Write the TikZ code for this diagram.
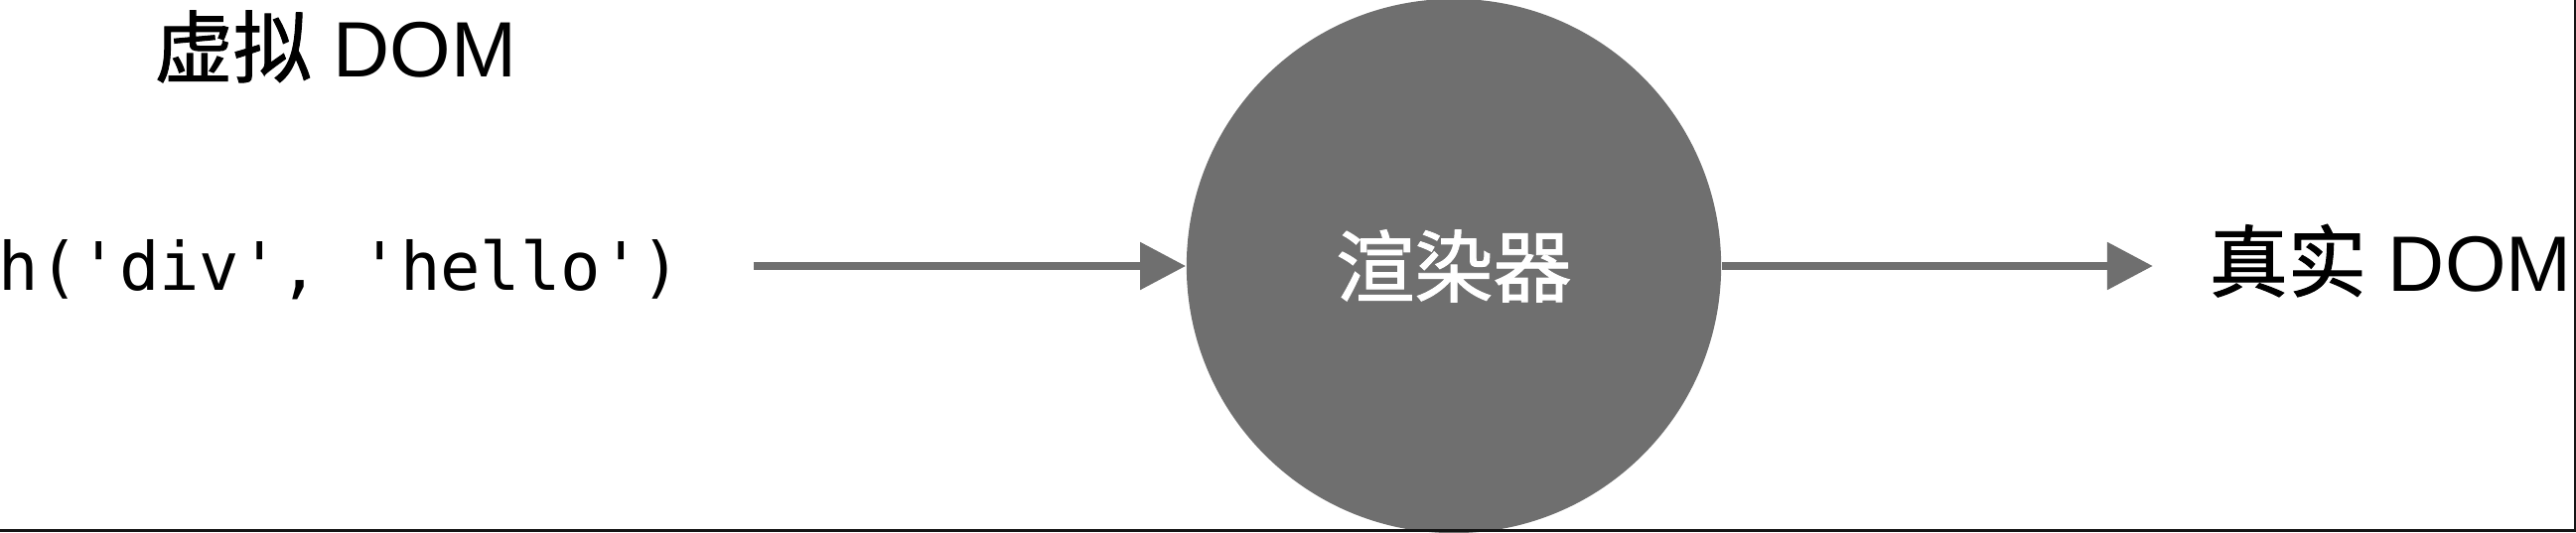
\documentclass[tikz,border=0pt]{standalone}
\usepackage{fontspec}
\setmainfont{Liberation Sans}
\setmonofont{DejaVu Sans Mono}
\newfontfamily\cjk[FakeBold=1.2]{Noto Sans CJK SC}
\usetikzlibrary{positioning,arrows.meta}
\definecolor{rendergray}{HTML}{6F6F6F}
\definecolor{edgeblack}{HTML}{151515}

\begin{document}
\begin{tikzpicture}[x=0.01cm,y=-0.01cm,
  >={Triangle[length=0.46cm,width=0.46cm]},
  txt/.style={inner sep=0pt,font=\fontsize{22.5pt}{26pt}\selectfont},
  flow/.style={->,draw=rendergray,fill=rendergray,line width=2.4pt}]
\useasboundingbox (0,0) rectangle (2594,536);
\node[txt,anchor=base] (vdom) at (338,77) {{\cjk 虚拟} DOM};
\node[inner sep=0pt,anchor=base west,font=\ttfamily\fontsize{19.1pt}{23pt}\selectfont] (code) at (-2,292) {h('div', 'hello')};
\node[circle,fill=rendergray,inner sep=0pt,minimum size=5.38cm,text=white,font=\cjk\fontsize{22.5pt}{26pt}\selectfont] (render) at (1464,268) {渲染器};
\node[txt,anchor=base west] (real) at (2224,293) {{\cjk 真实} DOM};
\draw[flow,shorten <=0.72cm] (code.east |- render) -- (render);
\draw[flow,shorten >=0.56cm] (render) -- (real.west |- render);
% frame edges
\draw[edgeblack,line width=0.03cm] (0,534.5) -- (2594,534.5);
\draw[edgeblack,line width=0.02cm] (2593,0) -- (2593,536);
\end{tikzpicture}
\end{document}
